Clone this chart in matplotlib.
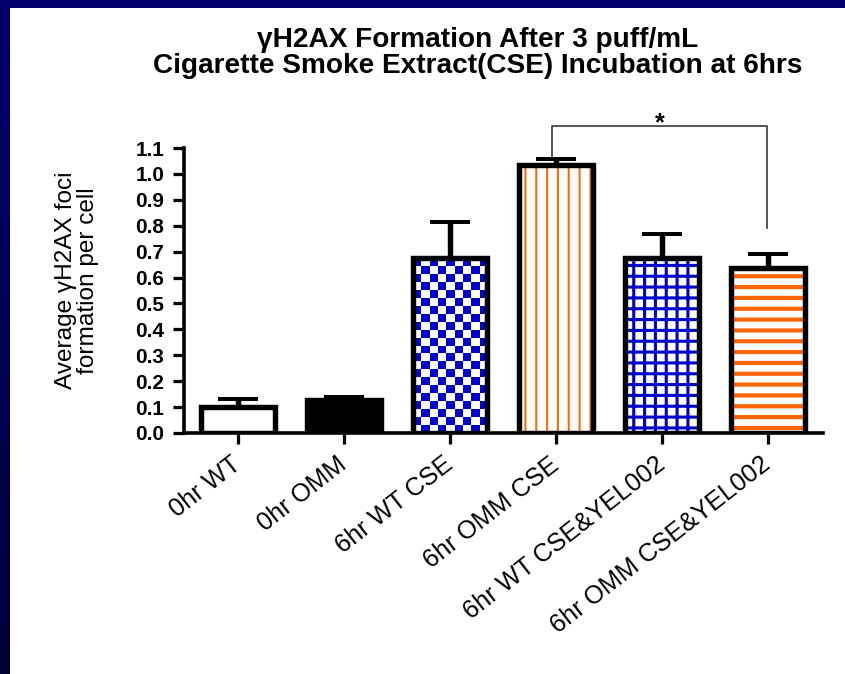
import numpy as np
import matplotlib
matplotlib.use("Agg")
from matplotlib import pyplot as plt
from matplotlib.colors import ListedColormap, LinearSegmentedColormap
from matplotlib.patches import Rectangle

groups = ["0hr WT", "0hr OMM", "6hr WT CSE", "6hr OMM CSE",
          "6hr WT CSE&YEL002", "6hr OMM CSE&YEL002"]
means = [0.10, 0.127, 0.675, 1.035, 0.675, 0.637]
errs = [0.03, 0.013, 0.14, 0.022, 0.095, 0.055]
yticks = [0.0, 0.1, 0.2, 0.3, 0.4, 0.5, 0.6, 0.7, 0.8, 0.9, 1.0, 1.1]

blue = "#0000CC"
orange = "#FF6600"

plt.rcParams["font.family"] = ["Liberation Sans", "DejaVu Sans"]

dpi = 130
fig = plt.figure(figsize=(845 / dpi, 674 / dpi), dpi=dpi)

# navy frame + white panel
bg = fig.add_axes([0, 0, 1, 1], zorder=-10)
grad = np.linspace(0, 1, 256).reshape(-1, 1)
bg.imshow(grad, aspect="auto", extent=(0, 1, 0, 1),
          cmap=LinearSegmentedColormap.from_list("nv", ["#00006E", "#000038"]))
bg.add_patch(Rectangle((10 / 845, 0), 1, 1 - 8 / 674, transform=bg.transAxes,
                       facecolor="white", edgecolor="none"))
bg.set_xlim(0, 1)
bg.set_ylim(0, 1)
bg.axis("off")

ax = fig.add_axes([0.2178, 0.3576, 0.7562, 0.4228])
x = np.arange(len(groups))
w = 0.7

# fills
fills = ["none", "black", "none", "none", "none", "none"]
hatches = [None, None, None, "||", "++", "--"]
hcolors = [None, None, None, orange, blue, orange]
hwidths = [1, 1, 1, 1.1, 1.7, 2.3]
for i in range(len(groups)):
    if hatches[i] is None:
        continue
    plt.rcParams["hatch.linewidth"] = hwidths[i]
    b = ax.bar(x[i], means[i], w, color="white", edgecolor=hcolors[i],
               hatch=hatches[i], linewidth=0, zorder=2)
    if hasattr(b[0], "set_hatch_linewidth"):
        b[0].set_hatch_linewidth(hwidths[i])

edges = ax.bar(x, means, w, color=fills, edgecolor="black", linewidth=3, zorder=4)

# checkerboard for 6hr WT CSE
cb = edges[2]
nx, ny = 9, 22
checker = (np.add.outer(np.arange(ny), np.arange(nx)) % 2)
im = ax.imshow(checker, cmap=ListedColormap(["white", blue]), interpolation="nearest",
               aspect="auto", origin="lower",
               extent=(cb.get_x(), cb.get_x() + cb.get_width(), 0, cb.get_height()),
               zorder=2)
im.set_clip_path(cb)

ax.errorbar(x, means, yerr=[np.zeros(len(errs)), errs], fmt="none", ecolor="black",
            elinewidth=3, capsize=11, capthick=2.2, zorder=3)

ax.set_xlim(-0.51, 5.52)
ax.set_ylim(0, 1.1)
ax.set_yticks(yticks)
ax.set_yticklabels(["%.1f" % t for t in yticks], fontsize=11.5, fontweight="bold")
ax.set_xticks(x)
ax.set_xticklabels(groups, rotation=38, ha="right", va="center",
                   rotation_mode="anchor", fontsize=14)
ax.tick_params(axis="both", length=6, width=1.8, pad=5)
ax.tick_params(axis="x", pad=10)
for s in ["top", "right"]:
    ax.spines[s].set_visible(False)
for s in ["left", "bottom"]:
    ax.spines[s].set_linewidth(2)

ax.set_ylabel("Average γH2AX foci\nformation per cell", fontsize=13.5, linespacing=1.0)
ax.yaxis.set_label_coords(-0.133, 0.535)

# significance bracket
ax.plot([2.96, 2.96, 4.99, 4.99], [1.066, 1.185, 1.185, 0.79], color="#333333",
        linewidth=0.9, clip_on=False)
ax.text(3.98, 1.195, "*", ha="center", va="center", fontsize=14, fontweight="bold")

fig.text(0.565, 0.921, "γΗ2AX Formation After 3 puff/mL\nCigarette Smoke Extract(CSE) Incubation at 6hrs",
         ha="center", va="center", fontsize=15.5, fontweight="bold", linespacing=1.0)

fig.savefig("out.png", dpi=dpi)
